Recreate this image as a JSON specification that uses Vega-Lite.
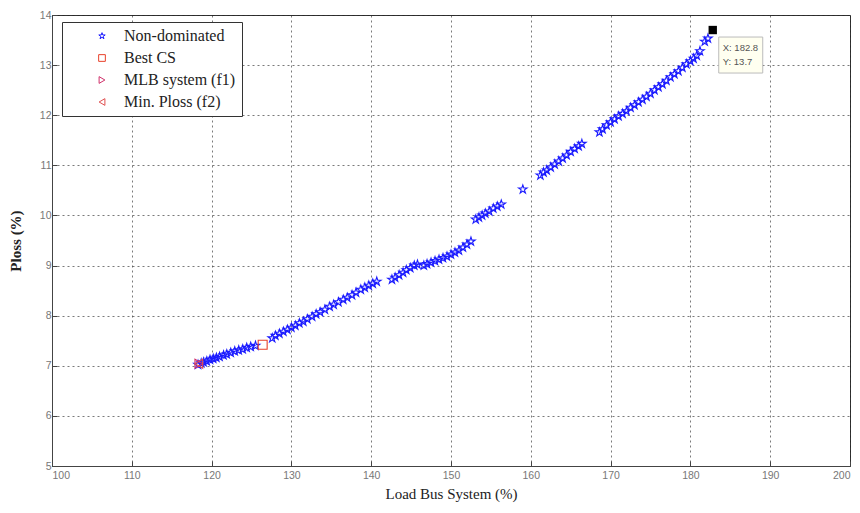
{
  "$schema": "https://vega.github.io/schema/vega-lite/v6.json",
  "width": 798,
  "height": 451,
  "autosize": {"type": "none"},
  "padding": {"left": 52, "top": 15, "right": 10, "bottom": 47},
  "background": "white",
  "config": {
    "view": {"stroke": "#333", "strokeWidth": 1},
    "axis": {
      "grid": true, "gridColor": "#222", "gridDash": [2, 3], "gridOpacity": 0.6,
      "domainColor": "#444", "tickColor": "#444", "tickSize": -5,
      "labelFont": "Liberation Sans", "labelFontSize": 10.5, "labelColor": "#777",
      "titleFont": "Liberation Serif", "titleFontSize": 15, "titleColor": "#222", "titleFontWeight": "normal"
    }
  },
  "datasets": {
    "pts": [
      {"load": 118.3, "ploss": 7.02, "series": "Non-dominated"},
      {"load": 118.7, "ploss": 7.05, "series": "Non-dominated"},
      {"load": 119.0, "ploss": 7.07, "series": "Non-dominated"},
      {"load": 119.4, "ploss": 7.09, "series": "Non-dominated"},
      {"load": 119.8, "ploss": 7.12, "series": "Non-dominated"},
      {"load": 120.2, "ploss": 7.14, "series": "Non-dominated"},
      {"load": 120.6, "ploss": 7.16, "series": "Non-dominated"},
      {"load": 121.0, "ploss": 7.18, "series": "Non-dominated"},
      {"load": 121.5, "ploss": 7.21, "series": "Non-dominated"},
      {"load": 121.9, "ploss": 7.23, "series": "Non-dominated"},
      {"load": 122.4, "ploss": 7.26, "series": "Non-dominated"},
      {"load": 122.9, "ploss": 7.29, "series": "Non-dominated"},
      {"load": 123.4, "ploss": 7.31, "series": "Non-dominated"},
      {"load": 123.9, "ploss": 7.33, "series": "Non-dominated"},
      {"load": 124.4, "ploss": 7.36, "series": "Non-dominated"},
      {"load": 124.9, "ploss": 7.38, "series": "Non-dominated"},
      {"load": 125.5, "ploss": 7.4, "series": "Non-dominated"},
      {"load": 127.6, "ploss": 7.55, "series": "Non-dominated"},
      {"load": 128.0, "ploss": 7.6, "series": "Non-dominated"},
      {"load": 128.5, "ploss": 7.64, "series": "Non-dominated"},
      {"load": 129.0, "ploss": 7.68, "series": "Non-dominated"},
      {"load": 129.5, "ploss": 7.72, "series": "Non-dominated"},
      {"load": 130.0, "ploss": 7.76, "series": "Non-dominated"},
      {"load": 130.5, "ploss": 7.8, "series": "Non-dominated"},
      {"load": 131.0, "ploss": 7.85, "series": "Non-dominated"},
      {"load": 131.5, "ploss": 7.88, "series": "Non-dominated"},
      {"load": 132.0, "ploss": 7.93, "series": "Non-dominated"},
      {"load": 132.6, "ploss": 7.98, "series": "Non-dominated"},
      {"load": 133.1, "ploss": 8.03, "series": "Non-dominated"},
      {"load": 133.6, "ploss": 8.07, "series": "Non-dominated"},
      {"load": 134.2, "ploss": 8.12, "series": "Non-dominated"},
      {"load": 134.8, "ploss": 8.18, "series": "Non-dominated"},
      {"load": 135.3, "ploss": 8.22, "series": "Non-dominated"},
      {"load": 135.9, "ploss": 8.27, "series": "Non-dominated"},
      {"load": 136.5, "ploss": 8.32, "series": "Non-dominated"},
      {"load": 137.0, "ploss": 8.36, "series": "Non-dominated"},
      {"load": 137.6, "ploss": 8.41, "series": "Non-dominated"},
      {"load": 138.1, "ploss": 8.46, "series": "Non-dominated"},
      {"load": 138.7, "ploss": 8.52, "series": "Non-dominated"},
      {"load": 139.2, "ploss": 8.56, "series": "Non-dominated"},
      {"load": 139.7, "ploss": 8.6, "series": "Non-dominated"},
      {"load": 140.2, "ploss": 8.64, "series": "Non-dominated"},
      {"load": 140.7, "ploss": 8.68, "series": "Non-dominated"},
      {"load": 142.6, "ploss": 8.72, "series": "Non-dominated"},
      {"load": 143.0, "ploss": 8.76, "series": "Non-dominated"},
      {"load": 143.5, "ploss": 8.81, "series": "Non-dominated"},
      {"load": 144.0, "ploss": 8.86, "series": "Non-dominated"},
      {"load": 144.4, "ploss": 8.91, "series": "Non-dominated"},
      {"load": 144.9, "ploss": 8.95, "series": "Non-dominated"},
      {"load": 145.4, "ploss": 9.0, "series": "Non-dominated"},
      {"load": 145.8, "ploss": 9.02, "series": "Non-dominated"},
      {"load": 146.6, "ploss": 9.0, "series": "Non-dominated"},
      {"load": 147.0, "ploss": 9.03, "series": "Non-dominated"},
      {"load": 147.5, "ploss": 9.06, "series": "Non-dominated"},
      {"load": 148.0, "ploss": 9.09, "series": "Non-dominated"},
      {"load": 148.5, "ploss": 9.12, "series": "Non-dominated"},
      {"load": 149.0, "ploss": 9.15, "series": "Non-dominated"},
      {"load": 149.5, "ploss": 9.18, "series": "Non-dominated"},
      {"load": 150.0, "ploss": 9.22, "series": "Non-dominated"},
      {"load": 150.5, "ploss": 9.26, "series": "Non-dominated"},
      {"load": 151.0, "ploss": 9.3, "series": "Non-dominated"},
      {"load": 151.5, "ploss": 9.36, "series": "Non-dominated"},
      {"load": 152.0, "ploss": 9.42, "series": "Non-dominated"},
      {"load": 152.5, "ploss": 9.48, "series": "Non-dominated"},
      {"load": 153.1, "ploss": 9.92, "series": "Non-dominated"},
      {"load": 153.5, "ploss": 9.96, "series": "Non-dominated"},
      {"load": 153.9, "ploss": 10.0, "series": "Non-dominated"},
      {"load": 154.3, "ploss": 10.04, "series": "Non-dominated"},
      {"load": 154.8, "ploss": 10.08, "series": "Non-dominated"},
      {"load": 155.3, "ploss": 10.14, "series": "Non-dominated"},
      {"load": 155.8, "ploss": 10.18, "series": "Non-dominated"},
      {"load": 156.3, "ploss": 10.22, "series": "Non-dominated"},
      {"load": 159.0, "ploss": 10.52, "series": "Non-dominated"},
      {"load": 161.2, "ploss": 10.8, "series": "Non-dominated"},
      {"load": 161.6, "ploss": 10.86, "series": "Non-dominated"},
      {"load": 162.0, "ploss": 10.9, "series": "Non-dominated"},
      {"load": 162.5, "ploss": 10.96, "series": "Non-dominated"},
      {"load": 163.0, "ploss": 11.02, "series": "Non-dominated"},
      {"load": 163.5, "ploss": 11.08, "series": "Non-dominated"},
      {"load": 164.0, "ploss": 11.14, "series": "Non-dominated"},
      {"load": 164.5, "ploss": 11.2, "series": "Non-dominated"},
      {"load": 165.0, "ploss": 11.27, "series": "Non-dominated"},
      {"load": 165.5, "ploss": 11.33, "series": "Non-dominated"},
      {"load": 166.0, "ploss": 11.38, "series": "Non-dominated"},
      {"load": 166.4, "ploss": 11.43, "series": "Non-dominated"},
      {"load": 168.6, "ploss": 11.66, "series": "Non-dominated"},
      {"load": 169.0, "ploss": 11.72, "series": "Non-dominated"},
      {"load": 169.5, "ploss": 11.8, "series": "Non-dominated"},
      {"load": 170.0, "ploss": 11.86, "series": "Non-dominated"},
      {"load": 170.5, "ploss": 11.92, "series": "Non-dominated"},
      {"load": 171.0, "ploss": 11.98, "series": "Non-dominated"},
      {"load": 171.5, "ploss": 12.03, "series": "Non-dominated"},
      {"load": 172.0, "ploss": 12.08, "series": "Non-dominated"},
      {"load": 172.5, "ploss": 12.15, "series": "Non-dominated"},
      {"load": 173.0, "ploss": 12.2, "series": "Non-dominated"},
      {"load": 173.5, "ploss": 12.26, "series": "Non-dominated"},
      {"load": 174.0, "ploss": 12.31, "series": "Non-dominated"},
      {"load": 174.5, "ploss": 12.37, "series": "Non-dominated"},
      {"load": 175.0, "ploss": 12.43, "series": "Non-dominated"},
      {"load": 175.5, "ploss": 12.5, "series": "Non-dominated"},
      {"load": 176.0, "ploss": 12.56, "series": "Non-dominated"},
      {"load": 176.5, "ploss": 12.62, "series": "Non-dominated"},
      {"load": 177.0, "ploss": 12.69, "series": "Non-dominated"},
      {"load": 177.5, "ploss": 12.76, "series": "Non-dominated"},
      {"load": 178.0, "ploss": 12.82, "series": "Non-dominated"},
      {"load": 178.5, "ploss": 12.88, "series": "Non-dominated"},
      {"load": 179.0, "ploss": 12.95, "series": "Non-dominated"},
      {"load": 179.5, "ploss": 13.02, "series": "Non-dominated"},
      {"load": 180.0, "ploss": 13.08, "series": "Non-dominated"},
      {"load": 180.4, "ploss": 13.13, "series": "Non-dominated"},
      {"load": 180.8, "ploss": 13.19, "series": "Non-dominated"},
      {"load": 181.2, "ploss": 13.28, "series": "Non-dominated"},
      {"load": 181.8, "ploss": 13.47, "series": "Non-dominated"},
      {"load": 182.2, "ploss": 13.53, "series": "Non-dominated"},
      {"load": 126.4, "ploss": 7.42, "series": "Best CS"},
      {"load": 118.4, "ploss": 7.04, "series": "MLB system (f1)"},
      {"load": 118.4, "ploss": 7.04, "series": "Min. Ploss (f2)"}
    ],
    "tip": [
      {"load": 182.8, "ploss": 13.7, "tx": "X: 182.8", "ty": "Y: 13.7"}
    ]
  },
  "layer": [
    {
      "data": {"name": "pts"},
      "mark": {"type": "point", "filled": false, "strokeWidth": 1.1, "size": 80, "opacity": 1},
      "encoding": {
        "x": {"field": "load", "type": "quantitative", "title": "Load Bus System (%)",
              "scale": {"domain": [100, 200], "nice": false},
              "axis": {"values": [100,110,120,130,140,150,160,170,180,190,200], "labelPadding": 9, "titlePadding": 6}},
        "y": {"field": "ploss", "type": "quantitative", "title": "Ploss (%)",
              "scale": {"domain": [5, 14], "nice": false},
              "axis": {"values": [5,6,7,8,9,10,11,12,13,14], "labelPadding": 6, "titlePadding": 16, "titleFontWeight": "bold"}},
        "shape": {"field": "series", "type": "nominal",
                  "scale": {"domain": ["Non-dominated", "Best CS", "MLB system (f1)", "Min. Ploss (f2)"],
                            "range": ["M0,-1L0.225,-0.309L0.951,-0.309L0.363,0.118L0.588,0.809L0,0.382L-0.588,0.809L-0.363,0.118L-0.951,-0.309L-0.225,-0.309Z", "square", "triangle-right", "triangle-left"]}},
        "color": {"field": "series", "type": "nominal",
                  "scale": {"domain": ["Non-dominated", "Best CS", "MLB system (f1)", "Min. Ploss (f2)"],
                            "range": ["#1a1aff", "#e8402a", "#d0306a", "#e05050"]},
                  "legend": {"title": null, "orient": "none", "legendX": 10, "legendY": 7,
                             "strokeColor": "#333", "fillColor": "white", "padding": 6,
                             "symbolOffset": 26, "labelOffset": 14, "rowPadding": 6,
                             "labelFont": "Liberation Serif", "labelFontSize": 16, "labelColor": "#222",
                             "symbolSize": 45, "symbolStrokeWidth": 1, "labelLimit": 300}}
      }
    },
    {
      "data": {"name": "tip"},
      "mark": {"type": "point", "shape": "M0.3,0.35H2.5V2.15H0.3Z", "size": 1600, "filled": true, "fill": "#fffff0", "stroke": "#bbbbbb", "strokeWidth": 1, "opacity": 1},
      "encoding": {"x": {"field": "load", "type": "quantitative"}, "y": {"field": "ploss", "type": "quantitative"}}
    },
    {
      "data": {"name": "tip"},
      "mark": {"type": "point", "shape": "square", "size": 70, "filled": true, "color": "black", "opacity": 1},
      "encoding": {"x": {"field": "load", "type": "quantitative"}, "y": {"field": "ploss", "type": "quantitative"}}
    },
    {
      "data": {"name": "tip"},
      "mark": {"type": "text", "align": "left", "baseline": "middle", "dx": 10, "dy": 18, "font": "Liberation Sans", "fontSize": 9.5, "color": "#555"},
      "encoding": {"x": {"field": "load", "type": "quantitative"}, "y": {"field": "ploss", "type": "quantitative"}, "text": {"field": "tx"}}
    },
    {
      "data": {"name": "tip"},
      "mark": {"type": "text", "align": "left", "baseline": "middle", "dx": 10, "dy": 32, "font": "Liberation Sans", "fontSize": 9.5, "color": "#555"},
      "encoding": {"x": {"field": "load", "type": "quantitative"}, "y": {"field": "ploss", "type": "quantitative"}, "text": {"field": "ty"}}
    }
  ]
}
